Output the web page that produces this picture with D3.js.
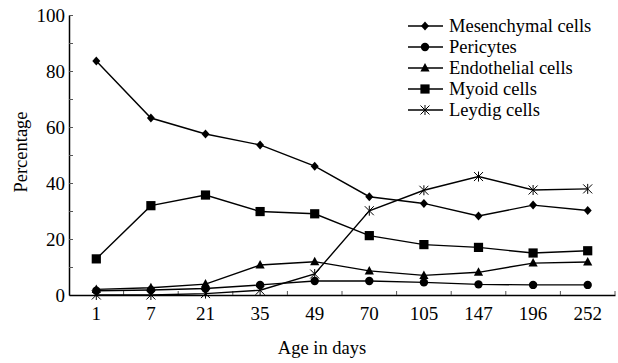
<!DOCTYPE html>
<html><head><meta charset="utf-8">
<script src="https://cdn.jsdelivr.net/npm/d3@7"></script>
<style>body{margin:0;background:#fff}svg{display:block}</style>
</head><body>
<script>
const categories = ["1","7","21","35","49","70","105","147","196","252"];
const mesenchymal = [83.6,63.2,57.5,53.6,46.0,35.1,32.7,28.2,32.1,30.2];
const pericytes = [1.5,1.8,2.3,3.6,5.0,5.0,4.5,3.8,3.6,3.6];
const endothelial = [2.0,2.6,3.9,10.7,11.9,8.6,7.0,8.1,11.4,11.8];
const myoid = [12.9,31.9,35.7,29.8,29.0,21.2,18.0,17.0,15.0,15.8];
const leydig = [0.0,0.0,0.5,1.7,7.5,30.1,37.4,42.3,37.5,37.9];
const yTicks = [0,20,40,60,80,100];
const seriesNames = ["Mesenchymal cells","Pericytes","Endothelial cells","Myoid cells","Leydig cells"];
const seriesData = [mesenchymal, pericytes, endothelial, myoid, leydig];
const seriesMarker = ["diamond","circle","triangle","square","asterisk"];

const FONT="'Liberation Serif', 'Times New Roman', Times, serif";
const W=618,H=363, L=69, R=615, T=15, B=295;
const svg=d3.select("body").append("svg").attr("width",W).attr("height",H)
  .attr("font-family",FONT);
const x=d3.scaleBand().domain(categories).range([L,R]);
const y=d3.scaleLinear().domain([0,100]).range([B,T]);

// axes
const yAxis=d3.axisLeft(y).tickValues(d3.range(0,101,10)).tickSize(-4).tickSizeOuter(0)
  .tickFormat(d=>yTicks.includes(d)?d:"");
const gy=svg.append("g").attr("transform",`translate(${L},0)`).call(yAxis)
  .attr("font-family",FONT).attr("font-size",19);
gy.selectAll("text").attr("x",-4).attr("fill","#000");
gy.select(".domain").attr("stroke","#000").attr("stroke-width",1.5);
gy.selectAll(".tick line").attr("stroke","#555");

const xAxis=d3.axisBottom(x).tickSize(0).tickSizeOuter(0);
const gx=svg.append("g").attr("transform",`translate(0,${B})`).call(xAxis)
  .attr("font-family",FONT).attr("font-size",19);
gx.selectAll("text").attr("dy","0").attr("y",25).attr("fill","#000");
gx.select(".domain").attr("stroke","#000").attr("stroke-width",1.5);
// boundary ticks
const bounds=categories.slice(1).map(c=>x(c)).concat([R]);
svg.append("g").selectAll("line").data(bounds).join("line")
  .attr("x1",d=>d).attr("x2",d=>d).attr("y1",B).attr("y2",B-4).attr("stroke","#555");

svg.append("text").attr("transform",`translate(27,152) rotate(-90)`).attr("text-anchor","middle")
  .attr("font-size",18.5).text("Percentage");
svg.append("text").attr("x",322).attr("y",354).attr("text-anchor","middle")
  .attr("font-size",18.5).text("Age in days");

function drawMarker(g,type){
  if(type==="diamond") g.append("path").attr("d","M0,-4.5L4,0L0,4.5L-4,0Z");
  else if(type==="circle") g.append("circle").attr("r",4.2);
  else if(type==="triangle") g.append("path").attr("d","M0,-5L4.6,3.5L-4.6,3.5Z");
  else if(type==="square") g.append("rect").attr("x",-4.6).attr("y",-4.6).attr("width",9.2).attr("height",9.2);
  else if(type==="asterisk") g.append("path").attr("d","M-4.5,-4.5L4.5,4.5M-4.5,4.5L4.5,-4.5M0,-5L0,5").attr("stroke","#000").attr("stroke-width",1).attr("fill","none");
}
const cx=c=>x(c)+x.bandwidth()/2;
const line=d3.line().x((d,i)=>cx(categories[i])).y(d=>y(d));
seriesData.forEach((data,si)=>{
  svg.append("path").datum(data).attr("d",line).attr("fill","none").attr("stroke","#000").attr("stroke-width",1.4);
  data.forEach((v,i)=>{
    const g=svg.append("g").attr("transform",`translate(${cx(categories[i])},${y(v)})`).attr("fill","#000");
    drawMarker(g,seriesMarker[si]);
  });
});

// legend
const lg=svg.append("g");
seriesNames.forEach((n,i)=>{
  const yy=26+i*21;
  lg.append("line").attr("x1",408).attr("x2",443).attr("y1",yy).attr("y2",yy).attr("stroke","#000").attr("stroke-width",1.4);
  const g=lg.append("g").attr("transform",`translate(425,${yy})`).attr("fill","#000");
  drawMarker(g,seriesMarker[i]);
  lg.append("text").attr("x",449).attr("y",yy+6).attr("font-size",18.5).attr("fill","#000").text(n);
});
</script>
</body></html>
